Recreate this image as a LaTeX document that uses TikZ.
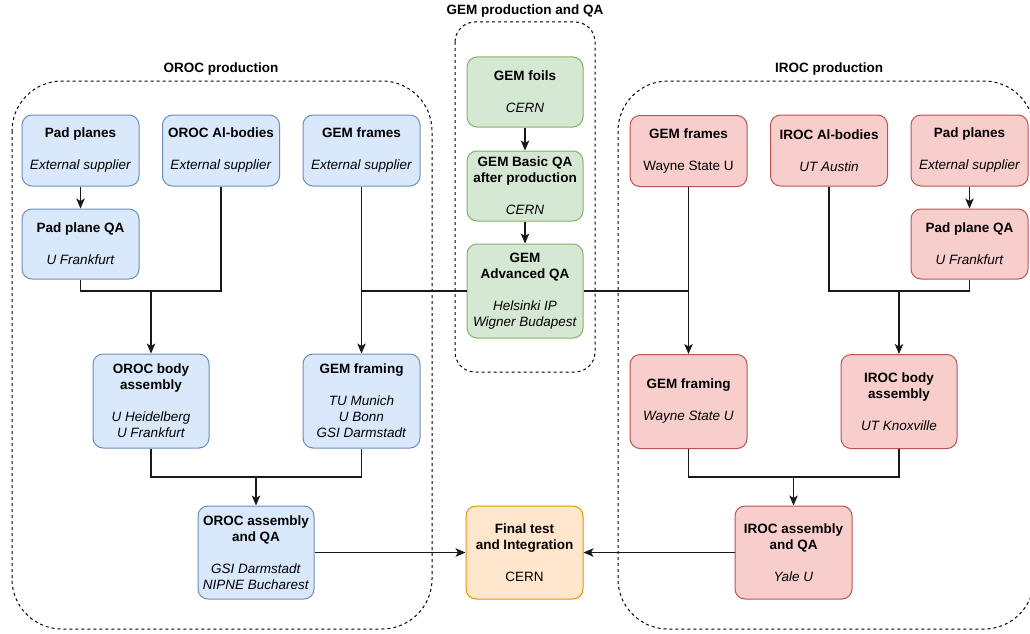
\documentclass[tikz,border=0pt]{standalone}
\usepackage{fontspec}
\setmainfont{Liberation Sans}
\usetikzlibrary{arrows.meta}
\definecolor{bfill}{HTML}{DAE8FC}\definecolor{bdraw}{HTML}{6C8EBF}
\definecolor{gfill}{HTML}{D5E8D4}\definecolor{gdraw}{HTML}{82B366}
\definecolor{rfill}{HTML}{F8CECC}\definecolor{rdraw}{HTML}{B85450}
\definecolor{ofill}{HTML}{FFE6CC}\definecolor{odraw}{HTML}{D79B00}
\tikzset{
  box/.style={draw, rounded corners=10pt, line width=1pt, align=center, inner sep=0pt,
    minimum width=117pt, font=\fontsize{13.5}{16}\selectfont},
  bluebox/.style={box, fill=bfill, draw=bdraw},
  greenbox/.style={box, fill=gfill, draw=gdraw},
  redbox/.style={box, fill=rfill, draw=rdraw},
  orangebox/.style={box, fill=ofill, draw=odraw},
  short/.style={minimum height=71pt},
  tall/.style={minimum height=94pt},
  group/.style={draw=black, line width=1pt, dash pattern=on 3pt off 3pt},
  grouplabel/.style={font=\fontsize{13.5}{16}\selectfont\bfseries, inner sep=0pt},
  conn/.style={draw=black!90, line width=1.1pt},
  arr/.style={conn, -{Stealth[length=10pt,width=8.5pt,inset=2.5pt]}},
}
\begin{document}
\begin{tikzpicture}[x=1pt,y=-1pt]
\useasboundingbox (0,0) rectangle (1030,634);
\begin{scope}
\clip (0,0) rectangle (1030,634);
% groups
\draw[group, rounded corners=50pt] (12,81) rectangle (432,629);
\draw[group, rounded corners=20pt] (455,22) rectangle (595,372);
\draw[group, rounded corners=50pt] (618,81) rectangle (1034,629);
\end{scope}
\node[grouplabel] (lo) at (221,69) {OROC production};
\node[grouplabel] (lg) at (525,11) {GEM production and QA};
\node[grouplabel] (li) at (829,69) {IROC production};

% OROC
\node[bluebox, short] (opp) at (80.5,150.5) {\textbf{Pad planes}\\[16pt]\textit{External supplier}};
\node[bluebox, short] (oal) at (221,150.5) {\textbf{OROC Al-bodies}\\[16pt]\textit{External supplier}};
\node[bluebox, short] (ogf) at (361.5,150.5) {\textbf{GEM frames}\\[16pt]\textit{External supplier}};
\node[bluebox, minimum height=70pt] (oppqa) at (80.5,244) {\textbf{Pad plane QA}\\[16pt]\textit{U Frankfurt}};
\node[bluebox, tall, minimum width=116pt] (obody) at (151,401) {\textbf{OROC body}\\\textbf{assembly}\\[16pt]\textit{U Heidelberg}\\\textit{U Frankfurt}};
\node[bluebox, tall] (oframing) at (361.5,401) {\textbf{GEM framing}\\[16pt]\textit{TU Munich}\\\textit{U Bonn}\\\textit{GSI Darmstadt}};
\node[bluebox, minimum height=93pt, minimum width=116pt] (oasm) at (256,552.5) {\textbf{OROC assembly}\\\textbf{and QA}\\[16pt]\textit{GSI Darmstadt}\\\textit{NIPNE Bucharest}};

% GEM
\node[greenbox, minimum height=70pt, minimum width=116pt] (foils) at (525,92) {\textbf{GEM foils}\\[16pt]\textit{CERN}};
\node[greenbox, minimum height=70pt, minimum width=116pt] (basic) at (525,186) {\textbf{GEM Basic QA}\\\textbf{after production}\\[16pt]\textit{CERN}};
\node[greenbox, tall, minimum width=116pt] (adv) at (525,291) {\textbf{GEM}\\\textbf{Advanced QA}\\[16pt]\textit{Helsinki IP}\\\textit{Wigner Budapest}};

% Final
\node[orangebox, minimum height=93pt] (final) at (524.5,552.5) {\textbf{Final test}\\\textbf{and Integration}\\[16pt]CERN};

% IROC
\node[redbox, short] (igf) at (688.5,151) {\textbf{GEM frames}\\[16pt]Wayne State U};
\node[redbox, short] (ial) at (829,150.5) {\textbf{IROC Al-bodies}\\[16pt]\textit{UT Austin}};
\node[redbox, short] (ipp) at (969.5,150.5) {\textbf{Pad planes}\\[16pt]\textit{External supplier}};
\node[redbox, minimum height=70pt] (ippqa) at (969.5,244) {\textbf{Pad plane QA}\\[16pt]\textit{U Frankfurt}};
\node[redbox, tall] (iframing) at (688.5,401.5) {\textbf{GEM framing}\\[16pt]\textit{Wayne State U}};
\node[redbox, tall, minimum width=116pt] (ibody) at (899,401.5) {\textbf{IROC body}\\\textbf{assembly}\\[16pt]\textit{UT Knoxville}};
\node[redbox, minimum height=93pt] (iasm) at (793.5,552.5) {\textbf{IROC assembly}\\\textbf{and QA}\\[16pt]\textit{Yale U}};

% junctions
\coordinate (oj) at (151,291);
\coordinate (ij) at (899,291);
\coordinate (oj2) at (256,477);
\coordinate (ij2) at (793.5,477);

% OROC connectors
\draw[arr] (opp) -- (oppqa);
\draw[conn] (oppqa.south) |- (oj) -| (oal.south);
\draw[arr] (oj) -- (obody.north);
\draw[arr] (ogf.south) -- (ogf.south |- oframing.north);
\draw[conn] (adv.west) -- (adv.west -| ogf.south);
\draw[conn] (obody.south) |- (oj2) -| (oframing.south);
\draw[arr] (oj2) -- (oasm.north);
\draw[arr] (oasm.east) -- (oasm.east -| final.west);

% GEM connectors
\draw[arr] (foils) -- (basic);
\draw[arr] (basic) -- (adv);
\draw[conn] (adv.east) -- (adv.east -| igf.south);

% IROC connectors
\draw[arr] (igf.south) -- (igf.south |- iframing.north);
\draw[arr] (ipp) -- (ippqa);
\draw[conn] (ial.south) |- (ij) -| (ippqa.south);
\draw[arr] (ij) -- (ibody.north);
\draw[conn] (iframing.south) |- (ij2) -| (ibody.south);
\draw[arr] (ij2) -- (iasm.north);
\draw[arr] (iasm.west) -- (iasm.west -| final.east);
\end{tikzpicture}
\end{document}
